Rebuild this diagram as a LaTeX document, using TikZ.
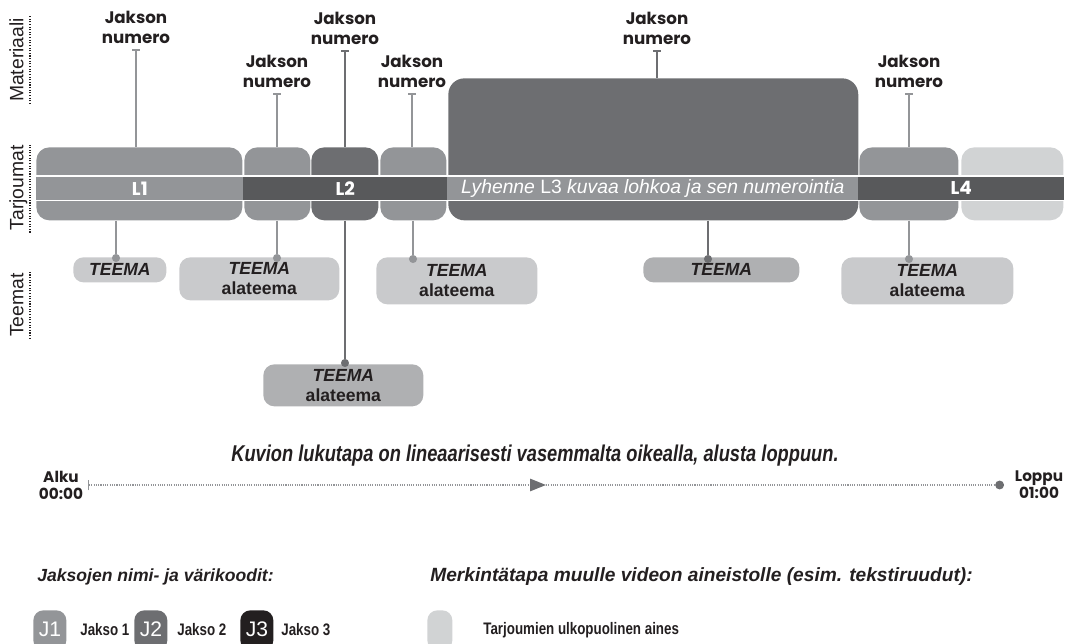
\documentclass[tikz,border=0pt]{standalone}
\usepackage{fontspec}
\setmainfont{Liberation Sans}
\newfontfamily\geofont{Poppins}
\newfontfamily\narrowfont[FakeStretch=0.8]{Liberation Sans}
\usetikzlibrary{arrows.meta}
\definecolor{midgrey}{HTML}{939598}
\definecolor{darkgrey}{HTML}{6D6E71}
\definecolor{bandgrey}{HTML}{58595B}
\definecolor{lightgrey}{HTML}{D1D3D4}
\definecolor{themelight}{HTML}{C9CACC}
\definecolor{thememid}{HTML}{AFB0B2}
\definecolor{inkblack}{HTML}{231F20}

\begin{document}
\begin{tikzpicture}[x=0.02cm, y=-0.02cm,
    block/.style={rounded corners=0.26cm, inner sep=0pt, anchor=north west, minimum height=1.46cm},
    band/.style={inner sep=0pt, anchor=west, minimum height=0.45cm, text=white},
    jakso/.style={anchor=south, align=center, inner sep=0pt, inner ysep=3pt, text=inkblack, font=\geofont\bfseries\fontsize{9.5}{11.3}\selectfont},
    teema/.style={rounded corners=0.22cm, inner sep=0pt, anchor=north west, align=center, text=inkblack, font=\bfseries\fontsize{10}{11.3}\selectfont},
    axislabel/.style={rotate=90, inner sep=1pt, text height=0.75em, text depth=0.25em, text=inkblack, font=\fontsize{11}{12}\selectfont},
    axisdots/.style={inkblack, line width=0.8pt, dash pattern=on 0.6pt off 0.9pt},
    matline/.style={line width=1.1pt, arrows={Bar[width=4.5pt]-}},
    themeline/.style={line width=1.1pt},
    dot/.style={circle, inner sep=0pt, minimum size=4.6pt},
    legendbox/.style={rounded corners=0.2cm, inner sep=0pt, anchor=north west, minimum width=0.66cm, minimum height=0.8cm},
    legendtext/.style={anchor=west, inner sep=0pt, text=inkblack, font=\narrowfont\bfseries\fontsize{9.5}{11}\selectfont},
    heading/.style={anchor=west, inner sep=0pt, text=inkblack, font=\bfseries\itshape\fontsize{10}{12}\selectfont}]
  \clip (0,0) rectangle (1069,644);

  % axis labels on the left
  \node[axislabel] (ax1) at (19,60) {Materiaali};
  \node[axislabel] (ax2) at (19,188) {Tarjoumat};
  \node[axislabel] (ax3) at (19,305) {Teemat};
  \draw[axisdots] (ax1.south west) -- (ax1.south east);
  \draw[axisdots] (ax2.south west) -- (ax2.south east);
  \draw[axisdots] (ax3.south west) -- (ax3.south east);

  % blocks
  \node[block, fill=midgrey, minimum width=4.12cm] (b1) at (36,147) {};
  \node[block, fill=midgrey, minimum width=1.32cm] (b2) at (244,147) {};
  \node[block, fill=darkgrey, minimum width=1.34cm] (b3) at (311,147) {};
  \node[block, fill=midgrey, minimum width=1.32cm] (b4) at (380,147) {};
  \node[block, fill=darkgrey, rounded corners=0.32cm, minimum width=8.2cm, minimum height=2.84cm] (b5) at (448,78) {};
  \node[block, fill=midgrey, minimum width=1.98cm] (b6) at (859,147) {};
  \node[block, fill=lightgrey, minimum width=2.04cm] (b7) at (961,147) {};

  % band through the blocks
  \fill[white] (36,175) rectangle (1064,201.5);
  \node[band, fill=midgrey, minimum width=4.14cm, font=\geofont\bfseries\fontsize{10.5}{13}\selectfont] (s1) at (36,188.3) {L1};
  \node[band, fill=bandgrey, minimum width=4.08cm, font=\geofont\bfseries\fontsize{10.5}{13}\selectfont] (s2) at (243,188.3) {L2};
  \node[band, fill=midgrey, minimum width=8.22cm, font=\fontsize{11}{13}\selectfont] (s3) at (447,188.3) {\textit{Lyhenne} L3 \textit{kuvaa lohkoa ja sen numerointia}};
  \node[band, fill=bandgrey, minimum width=4.12cm, font=\geofont\bfseries\fontsize{10.5}{13}\selectfont] (s4) at (858,188.3) {L4};

  % material labels
  \node[jakso] (j1) at (136,49) {Jakson\\numero};
  \node[jakso] (j2) at (277,93) {Jakson\\numero};
  \node[jakso] (j3) at (345,50) {Jakson\\numero};
  \node[jakso] (j4) at (412,93) {Jakson\\numero};
  \node[jakso] (j5) at (657,50) {Jakson\\numero};
  \node[jakso] (j6) at (909,93) {Jakson\\numero};
  \draw[matline, midgrey] (j1.south) -- (j1.south |- b1.north);
  \draw[matline, midgrey] (j2.south) -- (j2.south |- b2.north);
  \draw[matline, darkgrey] (j3.south) -- (j3.south |- b3.north);
  \draw[matline, midgrey] (j4.south) -- (j4.south |- b4.north);
  \draw[matline, darkgrey] (j5.south) -- (j5.south |- b5.north);
  \draw[matline, midgrey] (j6.south) -- (j6.south |- b6.north);

  % themes
  \node[teema, fill=themelight, minimum width=1.86cm, minimum height=0.5cm, rounded corners=0.2cm] (th1) at (73,257) {\textit{TEEMA}};
  \node[teema, fill=themelight, minimum width=3.2cm, minimum height=0.86cm] (th2) at (179,257) {\textit{TEEMA}\\alateema};
  \node[teema, fill=thememid, minimum width=3.2cm, minimum height=0.84cm] (th3) at (263,364) {\textit{TEEMA}\\alateema};
  \node[teema, fill=themelight, minimum width=3.22cm, minimum height=0.94cm] (th4) at (376,257) {\textit{TEEMA}\\alateema};
  \node[teema, fill=thememid, minimum width=3.12cm, minimum height=0.5cm, rounded corners=0.2cm] (th5) at (643,257) {\textit{TEEMA}};
  \node[teema, fill=themelight, minimum width=3.44cm, minimum height=0.94cm] (th6) at (841,257) {\textit{TEEMA}\\alateema};
  \node[dot, fill=midgrey] (d1) at (116,258) {};
  \node[dot, fill=midgrey] (d2) at (277,258) {};
  \node[dot, fill=darkgrey] (d3) at (345,363) {};
  \node[dot, fill=midgrey] (d4) at (413,259) {};
  \node[dot, fill=darkgrey] (d5) at (708,259) {};
  \node[dot, fill=midgrey] (d6) at (909,259) {};
  \draw[themeline, midgrey] (d1 |- b1.south) -- (d1);
  \draw[themeline, midgrey] (d2 |- b2.south) -- (d2);
  \draw[themeline, darkgrey] (d3 |- b3.south) -- (d3);
  \draw[themeline, midgrey] (d4 |- b4.south) -- (d4);
  \draw[themeline, darkgrey] (d5 |- b5.south) -- (d5);
  \draw[themeline, midgrey] (d6 |- b6.south) -- (d6);

  % time line
  \node[anchor=base, inner sep=0pt, text=inkblack, font=\narrowfont\bfseries\itshape\fontsize{13}{15}\selectfont] (reading) at (535,462) {Kuvion lukutapa on lineaarisesti vasemmalta oikealla, alusta loppuun.};
  \node[align=center, inner sep=0pt, text=inkblack, font=\geofont\bfseries\fontsize{8.7}{9.6}\selectfont] (alku) at (61,485) {Alku\\00:00};
  \node[align=center, inner sep=0pt, text=inkblack, font=\geofont\bfseries\fontsize{8.7}{9.6}\selectfont] (loppu) at (1039,485) {Loppu\\01:00};
  \coordinate (tstart) at (88,485);
  \coordinate (tend) at (1004,485);
  \path (tstart) -- (tend) coordinate[pos=0.5] (tmid);
  \draw[midgrey, line width=0.8pt, dash pattern=on 0.6pt off 0.7pt, arrows={Bar[width=6pt]-Triangle[length=9pt, width=7pt, color=darkgrey]}] (tstart) -- (tmid);
  \draw[midgrey, line width=0.8pt, dash pattern=on 0.6pt off 0.7pt, arrows={-Circle[length=5pt, color=darkgrey]}] (tmid) -- (tend);

  % legend
  \node[heading] (h1) at (37,577) {Jaksojen nimi- ja värikoodit:};
  \node[heading, font=\bfseries\itshape\fontsize{10.9}{12}\selectfont] (h2) at (430,577) {Merkintätapa muulle videon aineistolle (esim. tekstiruudut):};
  \node[legendbox, fill=midgrey] (lj1) at (33,610) {};
  \node[legendbox, fill=darkgrey] (lj2) at (134,610) {};
  \node[legendbox, fill=inkblack] (lj3) at (240,610) {};
  \node[legendbox, fill=lightgrey, minimum width=0.5cm] (lout) at (427,610) {};
  \node[text=white, font=\fontsize{12}{14}\selectfont] at (50,629) {J1};
  \node[text=white, font=\fontsize{12}{14}\selectfont] at (151,629) {J2};
  \node[text=white, font=\fontsize{12}{14}\selectfont] at (257,629) {J3};
  \node[legendtext] (t1) at (80,630) {Jakso 1};
  \node[legendtext] (t2) at (177,630) {Jakso 2};
  \node[legendtext] (t3) at (281,630) {Jakso 3};
  \node[legendtext] (tout) at (483,630) {Tarjoumien ulkopuolinen aines};
\end{tikzpicture}
\end{document}
